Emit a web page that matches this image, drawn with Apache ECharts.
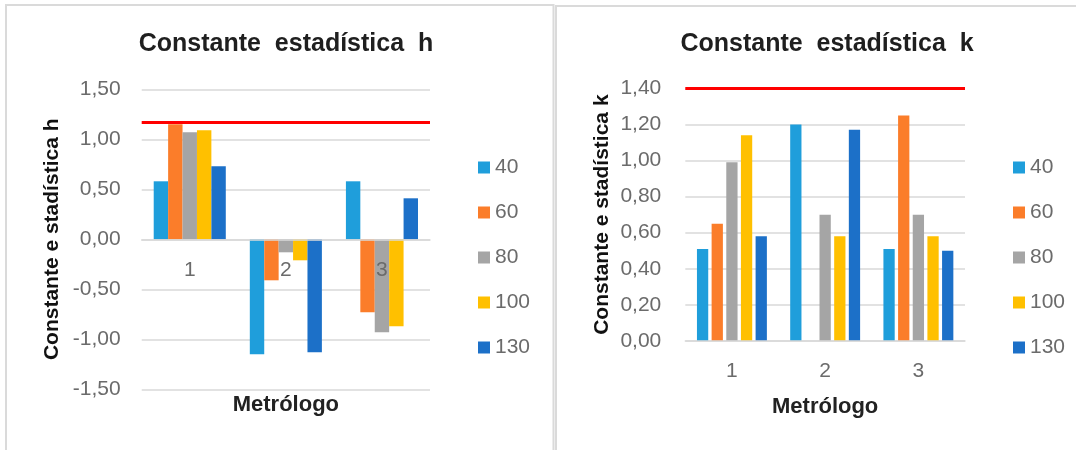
<!DOCTYPE html>
<html>
<head>
<meta charset="utf-8">
<script src="https://cdn.jsdelivr.net/npm/echarts@6/dist/echarts.min.js"></script>
<style>
  html, body { margin: 0; padding: 0; background: #ffffff; }
  #chart { width: 1076px; height: 450px; }
</style>
</head>
<body>
<div id="chart"></div>
<script>
// Laboratory consistency statistics (Mandel h and k) per metrologist and level
const metrologists = ['1', '2', '3'];
const levels = ['40', '60', '80', '100', '130'];

// Mandel h per level, one value per metrologist
const h40 = [0.58, -1.15, 0.58];
const h60 = [1.15, -0.41, -0.73];
const h80 = [1.07, -0.13, -0.93];
const h100 = [1.09, -0.21, -0.87];
const h130 = [0.73, -1.13, 0.41];

// Mandel k per level, one value per metrologist
const k40 = [0.51, 1.20, 0.51];
const k60 = [0.65, 0.00, 1.25];
const k80 = [0.99, 0.70, 0.70];
const k100 = [1.14, 0.58, 0.58];
const k130 = [0.58, 1.17, 0.50];

// Critical limits drawn as red reference lines
const hLimit = 1.17;
const kLimit = 1.40;

// Value axis ticks
const hTicks = [-1.5, -1.0, -0.5, 0.0, 0.5, 1.0, 1.5];
const kTicks = [0.0, 0.2, 0.4, 0.6, 0.8, 1.0, 1.2, 1.4];

const colors = ['#1f9edb', '#fb7d2a', '#a5a5a5', '#ffc000', '#1c70c8'];
const FONT = '"Liberation Sans", Arial, sans-serif';
const GRAY = '#6b6b6b';
const GRID_LINE = '#d9d9d9';

const hData = [h40, h60, h80, h100, h130];
const kData = [k40, k60, k80, k100, k130];

const fmt = v => v.toFixed(2).replace('.', ',');

// Plot areas
const gridH = { left: 141.7, right: 646, top: 89.3, bottom: 60.7 };
const gridK = { left: 685.3, right: 111, top: 88.3, bottom: 109 };
const CHART_H = 450;

// Shift of a bottom category axis so that it sits on the zero of the value axis
function zeroOffset(grid, ticks) {
  const height = CHART_H - grid.top - grid.bottom;
  const lo = ticks[0], hi = ticks[ticks.length - 1];
  return -((0 - lo) / (hi - lo)) * height;
}

function limitLine(value) {
  return {
    silent: true,
    symbol: 'none',
    label: { show: false },
    lineStyle: { color: '#ff0000', width: 3, type: 'solid' },
    data: [{ yAxis: value }]
  };
}

const series = [];
levels.forEach((lvl, i) => {
  series.push({
    name: lvl, type: 'bar', xAxisIndex: 0, yAxisIndex: 0,
    data: hData[i], itemStyle: { color: colors[i] },
    barGap: '0%', barCategoryGap: '25%',
    markLine: i === 0 ? limitLine(hLimit) : undefined
  });
});
levels.forEach((lvl, i) => {
  series.push({
    name: lvl, type: 'bar', xAxisIndex: 1, yAxisIndex: 1,
    data: kData[i], itemStyle: { color: colors[i] },
    barGap: '30%', barCategoryGap: '25%',
    markLine: i === 0 ? limitLine(kLimit) : undefined
  });
});

function valueAxis(gridIndex, ticks, name, nameGap, margin) {
  const step = Math.round((ticks[1] - ticks[0]) * 100) / 100;
  return {
    type: 'value', gridIndex,
    min: ticks[0], max: ticks[ticks.length - 1], interval: step,
    name, nameLocation: 'middle', nameGap, nameRotate: 90,
    nameTextStyle: { fontFamily: FONT, fontSize: 21, fontWeight: 'bold', color: '#111111' },
    axisLine: { show: false }, axisTick: { show: false },
    axisLabel: { fontFamily: FONT, fontSize: 21, color: GRAY, margin, formatter: fmt },
    splitLine: { lineStyle: { color: GRID_LINE, width: 1.5 } }
  };
}

// Category labels are drawn above the bars (z) so that "3" stays readable over the negative bars
function categoryAxis(gridIndex, nameGap, offset) {
  return {
    type: 'category', gridIndex, data: metrologists,
    position: 'bottom', offset, z: 5,
    name: 'Metrólogo', nameLocation: 'middle', nameGap,
    nameTextStyle: { fontFamily: FONT, fontSize: 22, fontWeight: 'bold', color: '#222222' },
    axisLine: { onZero: false, lineStyle: { color: GRID_LINE, width: 1.5 } },
    axisTick: { show: false },
    axisLabel: { fontFamily: FONT, fontSize: 21, color: GRAY, margin: 20 }
  };
}

function legend(left) {
  return {
    orient: 'vertical', left, top: 152,
    data: levels, icon: 'rect', itemWidth: 12, itemHeight: 12, itemGap: 24,
    textStyle: { fontFamily: FONT, fontSize: 21, color: GRAY, lineHeight: 20 },
    selectedMode: false
  };
}

const titleStyle = { fontFamily: FONT, fontSize: 25, fontWeight: 'bold', color: '#1f1f1f' };
const hOffset = zeroOffset(gridH, hTicks);

const chart = echarts.init(document.getElementById('chart'), null, { renderer: 'canvas' });
chart.setOption({
  animation: false,
  backgroundColor: '#ffffff',
  color: colors,
  title: [
    { text: 'Constante  estadística  h', left: 281, top: 27, textAlign: 'center', textStyle: titleStyle },
    { text: 'Constante  estadística  k', left: 822, top: 27, textAlign: 'center', textStyle: titleStyle }
  ],
  legend: [legend(473), legend(1008)],
  grid: [
    Object.assign({ containLabel: false, outerBoundsMode: 'none' }, gridH),
    Object.assign({ containLabel: false, outerBoundsMode: 'none' }, gridK)
  ],
  xAxis: [categoryAxis(0, 155, hOffset), categoryAxis(1, 55, 0)],
  yAxis: [
    valueAxis(0, hTicks, 'Constante e stadística h', 79, 21),
    valueAxis(1, kTicks, 'Constante e stadística k', 73, 24)
  ],
  series,
  graphic: [
    { type: 'rect', silent: true, z: 100,
      shape: { x: 6, y: 5, width: 547.5, height: 460 },
      style: { fill: 'none', stroke: '#dadada', lineWidth: 2 } },
    { type: 'rect', silent: true, z: 100,
      shape: { x: 556, y: 6, width: 540, height: 460 },
      style: { fill: 'none', stroke: '#dadada', lineWidth: 2 } }
  ]
});
</script>
</body>
</html>
